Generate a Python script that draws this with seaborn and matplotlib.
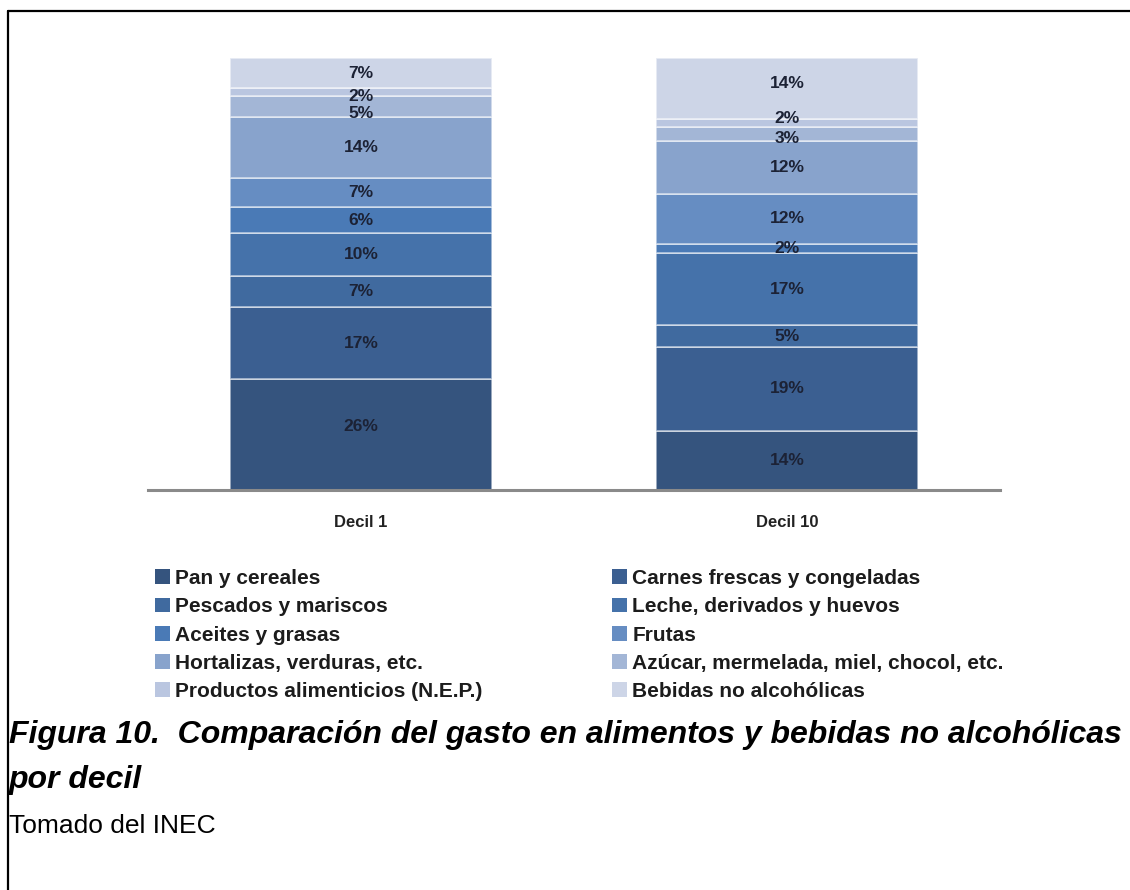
import matplotlib
matplotlib.use("Agg")
import matplotlib.pyplot as plt
from matplotlib.lines import Line2D
from matplotlib.patches import Patch
import seaborn as sns
import numpy as np
import pandas as pd

sns.set_theme(style="white")
plt.rcParams['font.family'] = ['Liberation Sans', 'DejaVu Sans']

deciles = ["Decil 1", "Decil 10"]
categories = [
    "Pan y cereales",
    "Carnes frescas y congeladas",
    "Pescados y mariscos",
    "Leche, derivados y huevos",
    "Aceites y grasas",
    "Frutas",
    "Hortalizas, verduras, etc.",
    "Azúcar, mermelada, miel, chocol, etc.",
    "Productos alimenticios (N.E.P.)",
    "Bebidas no alcohólicas",
]
decil1 = [25.6, 16.8, 7.1, 9.9, 6.0, 6.9, 14.0, 4.9, 1.8, 7.0]
decil10 = [13.7, 19.4, 5.0, 16.8, 2.1, 11.6, 12.3, 3.1, 1.8, 14.2]
labels1 = ["26%", "17%", "7%", "10%", "6%", "7%", "14%", "5%", "2%", "7%"]
labels10 = ["14%", "19%", "5%", "17%", "2%", "12%", "12%", "3%", "2%", "14%"]
colors = ["#35547E", "#3B5F91", "#406A9F", "#4572AA", "#4A7AB6",
          "#668DC2", "#88A3CC", "#A3B6D6", "#BAC6E0", "#CDD5E7"]

# small vertical nudges (pixels, up positive) for crowded labels: (bar, segment) -> px
nudges = {(0, 7): -7, (0, 8): -4, (1, 7): -5, (1, 8): 5, (1, 9): 5, (0, 0): 8}

W, H = 1130, 890
fig = plt.figure(figsize=(W / 100, H / 100), dpi=100)
ax = fig.add_axes([148 / W, 1 - 490 / H, 852 / W, 432 / H])

bottoms = np.zeros(2)
for i, cat in enumerate(categories):
    vals = np.array([decil1[i], decil10[i]])
    df = pd.DataFrame({"decil": deciles, "valor": vals})
    sns.barplot(data=df, x="decil", y="valor", bottom=bottoms, color=colors[i],
                width=0.615, edgecolor=(1, 1, 1, 0.6), linewidth=1.2,
                saturation=1, ax=ax, zorder=2)
    for j, lab in enumerate([labels1[i], labels10[i]]):
        dy = nudges.get((j, i), 0) * 0.72
        ax.annotate(lab, (j, bottoms[j] + vals[j] / 2), xytext=(0, dy),
                    textcoords="offset points", ha="center", va="center",
                    fontsize=12.5, fontweight="bold", color="#1c2235", zorder=3)
    bottoms = bottoms + vals

ax.set_xlim(-0.5, 1.5)
ax.set_ylim(0, 100)
ax.set_xlabel("")
ax.set_ylabel("")
ax.set_yticks([])
ax.set_xticks([0, 1])
ax.set_xticklabels(deciles, fontsize=12, fontweight="bold", color="#222222")
ax.tick_params(axis="x", length=0, pad=18)
ax.set_xticks([-0.5, 0.5, 1.5], minor=True)
ax.tick_params(axis="x", which="minor", length=6, width=2, color="#8a8a8a", direction="out")
for s in ["top", "right", "left"]:
    ax.spines[s].set_visible(False)
ax.spines["bottom"].set_color("#8a8a8a")
ax.spines["bottom"].set_linewidth(2.2)
ax.patch.set_alpha(0)

# legend, row-wise order in two columns
col1 = [0, 2, 4, 6, 8]
col2 = [1, 3, 5, 7, 9]
leg_kw = dict(frameon=False, prop={"size": 15, "weight": "bold"}, handlelength=0.72,
              handleheight=0.72, handletextpad=0.25, labelspacing=0.445,
              borderpad=0, borderaxespad=0, loc="upper left")
for cols, x0 in [(col1, 155), (col2, 612)]:
    handles = [Patch(facecolor=colors[k], edgecolor="none") for k in cols]
    labs = [categories[k] for k in cols]
    lg = fig.legend(handles, labs, bbox_to_anchor=(x0 / W, 1 - 569 / H), **leg_kw)
    for t in lg.get_texts():
        t.set_color("#1c1c1c")

# caption
fig.text(9 / W, 1 - 735 / H,
         "Figura 10.  Comparación del gasto en alimentos y bebidas no alcohólicas",
         fontsize=23.0, fontweight="bold", fontstyle="italic", va="center", ha="left",
         color="black")
fig.text(9 / W, 1 - 780 / H, "por decil",
         fontsize=23.0, fontweight="bold", fontstyle="italic", va="center", ha="left",
         color="black")
fig.text(9 / W, 1 - 826 / H, "Tomado del INEC",
         fontsize=19, va="center", ha="left", color="black")

# frame lines
fig.add_artist(Line2D([8 / W, 1], [1 - 11 / H, 1 - 11 / H], color="black", lw=1.6,
                      transform=fig.transFigure))
fig.add_artist(Line2D([8 / W, 8 / W], [0, 1 - 11 / H], color="black", lw=1.6,
                      transform=fig.transFigure))

fig.savefig("out.png", dpi=100, facecolor="white")
